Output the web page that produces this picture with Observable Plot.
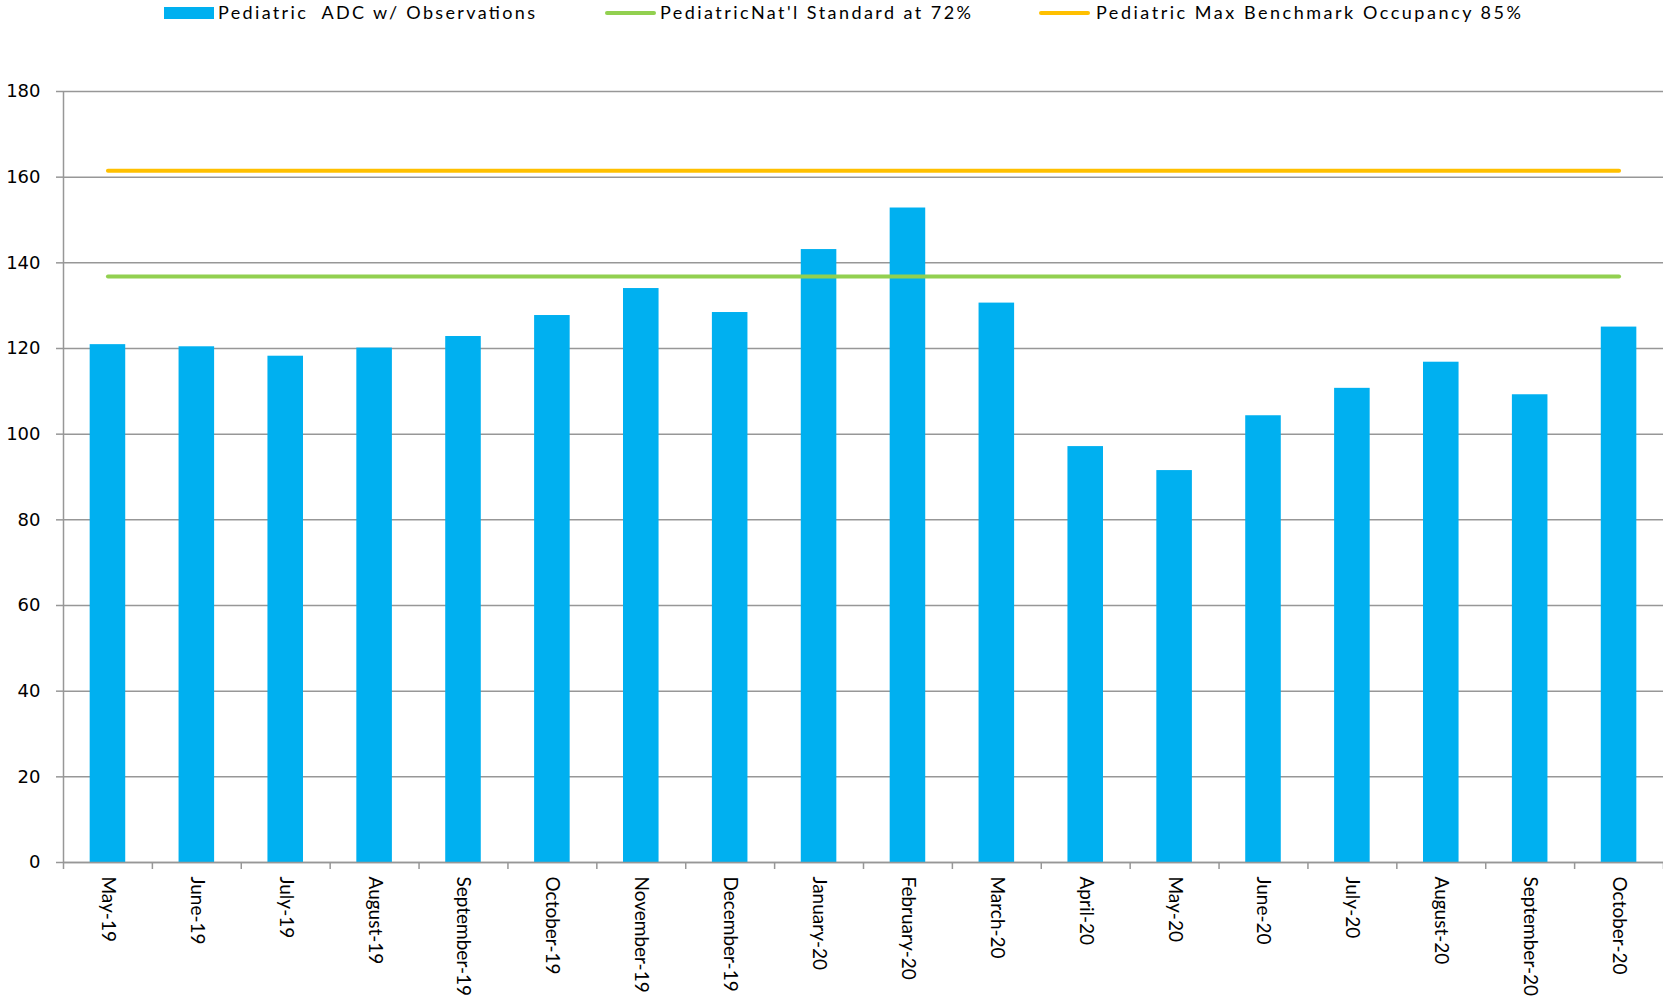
<!DOCTYPE html>
<html>
<head>
<meta charset="utf-8">
<script src="https://cdn.jsdelivr.net/npm/d3@7"></script>
<script src="https://cdn.jsdelivr.net/npm/@observablehq/plot@0.6"></script>
<style>
  html, body { margin: 0; padding: 0; background: #fff; overflow: hidden; }
  #legend { display: block; }
  #chart svg { display: block; }
</style>
</head>
<body>
<svg id="legend" width="1663" height="30"></svg>
<div id="chart"></div>
<script>
const categories = ["May-19","June-19","July-19","August-19","September-19","October-19","November-19","December-19","January-20","February-20","March-20","April-20","May-20","June-20","July-20","August-20","September-20","October-20"];
const adcValues = [120.9,120.4,118.2,120.1,122.8,127.7,134.0,128.4,143.1,152.8,130.6,97.1,91.5,104.3,110.7,116.8,109.2,125.0];
const standardValues = [136.8,136.8,136.8,136.8,136.8,136.8,136.8,136.8,136.8,136.8,136.8,136.8,136.8,136.8,136.8,136.8,136.8,136.8];
const maxValues = [161.5,161.5,161.5,161.5,161.5,161.5,161.5,161.5,161.5,161.5,161.5,161.5,161.5,161.5,161.5,161.5,161.5,161.5];
const yTicks = [0,20,40,60,80,100,120,140,160,180];
const seriesNames = ["Pediatric  ADC w/ Observations", "PediatricNat'l Standard at 72%", "Pediatric Max Benchmark Occupancy 85%"];
const colors = ["#00B0F0", "#92D050", "#FFC000"];

const rows = categories.map((c, i) => ({month: c, adc: adcValues[i], std: standardValues[i], max: maxValues[i]}));

const W = 1663, H = 975, ML = 63, MR = 0, MT = 61, MB = 143;
const step = (W - ML - MR) / categories.length;
const gray = "#979797";

const chart = Plot.plot({
  width: W, height: H,
  marginLeft: ML, marginRight: MR, marginTop: MT, marginBottom: MB,
  style: {fontFamily: "Lato", fontSize: "18px", background: "#fff", color: "#000"},
  x: {type: "band", domain: categories, paddingInner: 0.6, paddingOuter: 0.3, round: false},
  y: {domain: [0, 180], ticks: yTicks},
  marks: [
    Plot.gridY(yTicks, {stroke: gray, strokeOpacity: 1, strokeWidth: 1.5}),
    Plot.barY(rows, {x: "month", y: "adc", fill: colors[0]}),
    Plot.line(rows, {x: "month", y: "std", stroke: colors[1], strokeWidth: 4, strokeLinecap: "round"}),
    Plot.line(rows, {x: "month", y: "max", stroke: colors[2], strokeWidth: 4, strokeLinecap: "round"}),
    Plot.ruleY([0], {stroke: gray, strokeWidth: 1.5}),
    Plot.ruleX(categories.slice(0, 1), {x: d => d, dx: -step / 2, y1: 180, y2: 0, insetBottom: -7, stroke: gray, strokeWidth: 1.5}),
    Plot.ruleX(categories.slice(1), {x: d => d, dx: -step / 2, y1: 0, y2: 0, insetBottom: -7, stroke: gray, strokeWidth: 1.5}),
    Plot.ruleX(categories.slice(-1), {x: d => d, dx: step / 2, y1: 0, y2: 0, insetBottom: -7, stroke: gray, strokeWidth: 1.5}),
    Plot.axisY({ticks: yTicks, tickSize: 7, tickPadding: 16, stroke: gray, strokeWidth: 1.5, fontFamily: "DejaVu Sans", fontSize: 18, fill: "#000", label: null}),
    Plot.axisX({tickRotate: 90, tickSize: 0, tickPadding: 14, fontFamily: "Lato", fontSize: 19, fill: "#000", label: null})
  ]
});
document.getElementById("chart").appendChild(chart);

// Legend
const leg = d3.select("#legend");
const ly = 13;
const items = [
  {kind: "rect", x0: 164, x1: 214, tx: 218, tw: 317},
  {kind: "line", x0: 605, x1: 656, tx: 660, tw: 311},
  {kind: "line", x0: 1039, x1: 1090, tx: 1096, tw: 425}
];
items.forEach((it, i) => {
  if (it.kind === "rect") {
    leg.append("rect").attr("x", it.x0).attr("y", ly - 6).attr("width", it.x1 - it.x0).attr("height", 12).attr("fill", colors[i]);
  } else {
    leg.append("line").attr("x1", it.x0 + 2).attr("x2", it.x1 - 2).attr("y1", ly).attr("y2", ly)
      .attr("stroke", colors[i]).attr("stroke-width", 4).attr("stroke-linecap", "round");
  }
  leg.append("text").attr("x", it.tx).attr("y", ly + 6)
    .attr("font-family", "Lato").attr("font-size", 18).attr("fill", "#000")
    .attr("textLength", it.tw).attr("lengthAdjust", "spacing")
    .style("white-space", "pre")
    .text(seriesNames[i]);
});
</script>
</body>
</html>
